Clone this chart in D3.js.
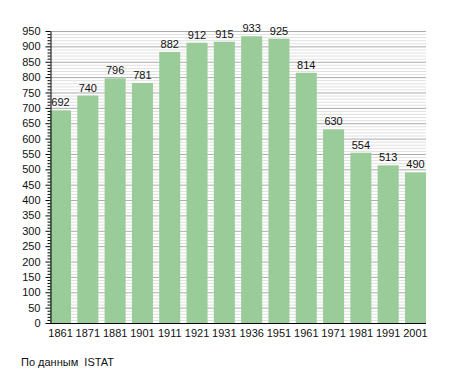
<!DOCTYPE html>
<html><head><meta charset="utf-8">
<script src="https://cdn.jsdelivr.net/npm/d3@7"></script>
<style>body{margin:0;background:#fff}svg{display:block;font-family:"Liberation Sans",Arial,sans-serif}</style>
</head><body>
<svg id="c" width="455" height="373"></svg>
<script>
const years = ["1861","1871","1881","1901","1911","1921","1931","1936","1951","1961","1971","1981","1991","2001"];
const population = [692,740,796,781,882,912,915,933,925,814,630,554,513,490];
const yTicks = [0,50,100,150,200,250,300,350,400,450,500,550,600,650,700,750,800,850,900,950];
const source = "По данным  ISTAT";

const svg = d3.select("#c");
const x = d3.scaleBand().domain(years).range([50, 426]).paddingInner(0.23).paddingOuter(0);
const y = d3.scaleLinear().domain([0, 950]).range([323, 31]);

const minor = d3.range(0, 951, 10);
svg.append("g").selectAll("line").data(minor.filter(v => v % 50 !== 0)).join("line")
  .attr("x1", 50).attr("x2", 426).attr("y1", d => y(d) + 0.5).attr("y2", d => y(d) + 0.5)
  .attr("stroke", "#e0e0e0").attr("stroke-width", 1);
svg.append("g").selectAll("line").data(yTicks.filter(v => v > 0)).join("line")
  .attr("x1", 50).attr("x2", 426).attr("y1", d => y(d) + 0.5).attr("y2", d => y(d) + 0.5)
  .attr("stroke", "#aaaaaa").attr("stroke-width", 1);

svg.append("g").selectAll("rect").data(years).join("rect")
  .attr("x", d => x(d)).attr("width", x.bandwidth())
  .attr("y", (d, i) => y(population[i])).attr("height", (d, i) => y(0) - y(population[i]))
  .attr("fill", "#99cc99");

svg.append("g").selectAll("text").data(years).join("text")
  .attr("x", d => x(d) + x.bandwidth() / 2).attr("y", (d, i) => y(population[i]) - 4)
  .attr("text-anchor", "middle").attr("font-size", 11).attr("fill", "#111")
  .text((d, i) => population[i]);

// y axis
const yAxis = d3.axisLeft(y).tickValues(yTicks).tickSize(5).tickPadding(5).tickSizeOuter(0);
const gy = svg.append("g").attr("transform", "translate(50.5,0)").call(yAxis);
gy.select(".domain").attr("stroke", "#000");
gy.selectAll(".tick line").attr("stroke", "#000");
gy.selectAll(".tick text").attr("font-size", 11).attr("fill", "#111").attr("font-family", "Liberation Sans, Arial, sans-serif");
gy.append("g").selectAll("line").data(minor.filter(v => v % 50 !== 0)).join("line")
  .attr("x1", -3).attr("x2", 0).attr("y1", d => y(d) + 0.5).attr("y2", d => y(d) + 0.5)
  .attr("stroke", "#000");

// x axis
const xAxis = d3.axisBottom(x).tickSize(0).tickPadding(6).tickSizeOuter(0);
const gx = svg.append("g").attr("transform", "translate(0,323.5)").call(xAxis);
gx.select(".domain").attr("stroke", "#000").attr("d", "M50,0H426");
gx.selectAll(".tick text").attr("font-size", 11).attr("fill", "#111").attr("font-family", "Liberation Sans, Arial, sans-serif");

svg.append("text").attr("x", 21).attr("y", 366).attr("font-size", 11).attr("fill", "#111")
  .style("white-space", "pre").text(source);
</script>
</body></html>
